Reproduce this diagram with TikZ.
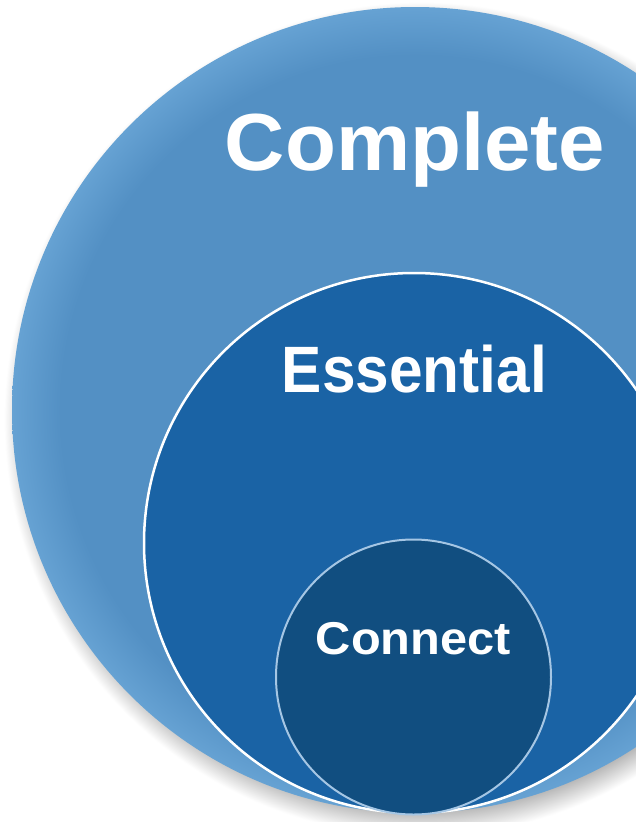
\documentclass[tikz,border=0pt]{standalone}
\usepackage{fontspec}
\setmainfont{Liberation Sans}
\definecolor{outerblue}{RGB}{83,144,196}
\definecolor{rimblue}{RGB}{102,162,211}
\definecolor{midblue}{RGB}{26,99,165}
\definecolor{darkblue}{RGB}{17,78,128}
\definecolor{ringblue}{RGB}{165,198,228}
\definecolor{shadowgray}{RGB}{175,175,175}
\pgfdeclareradialshading{rimshade}{\pgfpoint{0bp}{0bp}}{color(0bp)=(outerblue); color(22bp)=(outerblue); color(25bp)=(rimblue); color(50bp)=(rimblue)}
\pgfdeclareradialshading{softshadow}{\pgfpoint{0bp}{0bp}}{color(0bp)=(shadowgray); color(23.3bp)=(shadowgray); color(25bp)=(white); color(50bp)=(white)}
\tikzset{
  disc/.style={circle, inner sep=0pt, outer sep=0pt},
  lbl/.style={text=white, font=\bfseries, anchor=base, inner sep=0pt}
}
\begin{document}
\begin{tikzpicture}[x=1pt,y=-1pt]
\useasboundingbox (0,0) rectangle (636,822);
\fill[white] (0,0) rectangle (636,822);
% shadow
\node[disc, minimum size=834pt, shading=softshadow] (shadow) at (421,419) {};
% circles
\node[disc, minimum size=806pt, shading=rimshade] (complete) at (415,410) {};
\node[disc, minimum size=540pt, fill=midblue, draw=white, line width=2.5pt] (essential) at (414,543) {};
\node[disc, minimum size=275pt, fill=darkblue, draw=ringblue, line width=2pt] (connect) at (413.5,677) {};
% labels
\node[lbl] (tcomplete) at (415,170) {\fontsize{81}{81}\selectfont\scalebox{1.03}[1]{Complete}};
\node[lbl] (tessential) at (414.5,392) {\fontsize{65.6}{66}\selectfont\scalebox{0.92}[1]{Essential}};
\node[lbl] (tconnect) at (413.5,654) {\fontsize{46}{46}\selectfont\scalebox{1.06}[1]{Connect}};
\end{tikzpicture}
\end{document}
